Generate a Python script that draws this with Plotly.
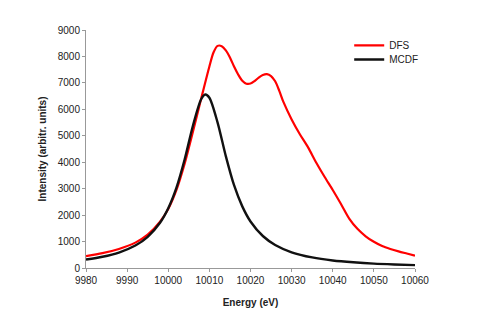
import plotly.graph_objects as go

# DFS (red) curve
dfs_energy = [9980, 9984, 9988, 9992, 9995, 9998, 10000, 10002, 10004, 10006, 10008,
              10010, 10011, 10012, 10013, 10014, 10015, 10016, 10017, 10018, 10019,
              10020, 10021, 10022, 10023, 10024, 10025, 10026, 10027, 10028, 10030,
              10032, 10034, 10036, 10038, 10040, 10042, 10044, 10046, 10048, 10050,
              10052, 10054, 10056, 10058, 10060]
dfs_intensity = [450, 560, 720, 960, 1260, 1750, 2230, 2950, 3950, 5150, 6400,
                 7620, 8150, 8400, 8390, 8230, 7960, 7620, 7320, 7080, 6970,
                 6975, 7070, 7200, 7300, 7330, 7260, 7060, 6700, 6280, 5620,
                 5060, 4560, 3980, 3450, 2950, 2420, 1870, 1480, 1200, 990,
                 830, 720, 630, 550, 470]

# MCDF (black) curve
mcdf_energy = [9980, 9984, 9988, 9992, 9995, 9998, 10000, 10002, 10004, 10006, 10008,
               10009, 10010, 10012, 10014, 10016, 10018, 10020, 10023, 10026, 10030,
               10035, 10040, 10045, 10050, 10055, 10060]
mcdf_intensity = [320, 425, 585, 850, 1180, 1710, 2260, 3040, 4110, 5380, 6380,
                  6560, 6440, 5500, 4230, 3130, 2330, 1760, 1210, 870, 595,
                  400, 285, 215, 165, 133, 108]

x_ticks = [9980, 9990, 10000, 10010, 10020, 10030, 10040, 10050, 10060]
y_ticks = [0, 1000, 2000, 3000, 4000, 5000, 6000, 7000, 8000, 9000]

fig = go.Figure()
fig.add_trace(go.Scatter(x=dfs_energy, y=dfs_intensity, name="DFS", mode="lines",
                         line=dict(color="#ff0000", width=2.2, shape="spline", smoothing=0.8),
                         legend="legend"))
fig.add_trace(go.Scatter(x=mcdf_energy, y=mcdf_intensity, name="MCDF", mode="lines",
                         line=dict(color="#111111", width=2.4, shape="spline", smoothing=0.8),
                         legend="legend2"))

axis_font = dict(family="Liberation Sans, Arial, sans-serif", size=10, color="#222")
leg_common = dict(xanchor="left", yanchor="top", bgcolor="rgba(0,0,0,0)",
                  font=dict(family="Liberation Sans, Arial, sans-serif", size=10, color="#222"))
# page body has an 8px default margin, so the figure is sized to fit inside the window
fig.update_layout(
    width=471, height=323,
    margin=dict(l=78, r=64, t=22, b=63),
    paper_bgcolor="white", plot_bgcolor="white",
    font=axis_font,
    showlegend=True,
    legend=dict(x=0.80, y=0.996, **leg_common),
    legend2=dict(x=0.80, y=0.937, **leg_common),
    xaxis=dict(range=[9980, 10060], tickvals=x_ticks, ticktext=[str(v) for v in x_ticks],
               showgrid=False, zeroline=False, showline=True, linecolor="#999",
               linewidth=1, ticks="outside", ticklen=3, tickcolor="#999",
               tickfont=axis_font, automargin=False,
               title=dict(text="<b>Energy (eV)</b>", font=dict(size=10, color="#222"), standoff=13)),
    yaxis=dict(range=[0, 9000], tickvals=y_ticks, ticktext=[str(v) for v in y_ticks],
               showgrid=False, zeroline=False, showline=True, linecolor="#999",
               linewidth=1, ticks="outside", ticklen=3, tickcolor="#999",
               tickfont=axis_font, automargin=False,
               title=dict(text="<b>Intensity (arbitr. units)</b>", font=dict(size=10, color="#222"), standoff=9)),
)
fig.write_html("out.html")
